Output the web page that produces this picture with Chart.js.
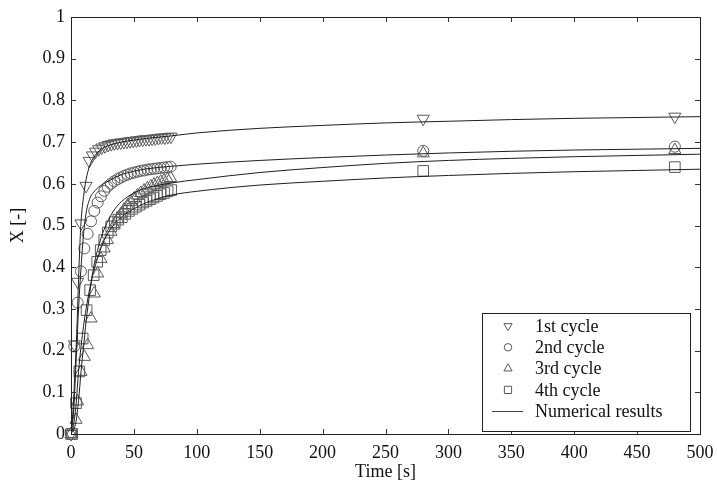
<!DOCTYPE html>
<html><head><meta charset="utf-8">
<script src="https://cdn.jsdelivr.net/npm/chart.js@4.4.1/dist/chart.umd.min.js"></script>
<style>html,body{margin:0;padding:0;background:#fff}canvas{display:block}</style>
</head><body>
<canvas id="c" width="717" height="483"></canvas>
<script>
// ---- tick labels ----
const xTickLabels = ["0","50","100","150","200","250","300","350","400","450","500"];
const yTickLabels = ["0","0.1","0.2","0.3","0.4","0.5","0.6","0.7","0.8","0.9","1"];
const legendLabels = ["1st cycle","2nd cycle","3rd cycle","4th cycle","Numerical results"];

// ---- experimental points [time s, X] ----
const cycle1 = [[0,0],[2.6,0.215],[5.3,0.365],[7.9,0.505],[11.9,0.595],[14.5,0.655],[17,0.668],[19.5,0.677],[22,0.683],[24.5,0.687],[27,0.690],[29.5,0.693],[32,0.695],[34.5,0.697],[37,0.698],[39.5,0.699],[42,0.700],[44.5,0.701],[47,0.702],[49.5,0.703],[52,0.704],[54.5,0.705],[57,0.706],[59.5,0.707],[62,0.707],[64.5,0.708],[67,0.709],[69.5,0.710],[72,0.711],[74.5,0.711],[77,0.712],[79.5,0.713],[280,0.756],[480,0.761]];
const cycle2 = [[0,0],[2.6,0.21],[5.3,0.315],[7.9,0.39],[10.6,0.445],[13.2,0.48],[15.9,0.51],[18.5,0.535],[21.2,0.555],[23.8,0.57],[26.4,0.583],[29,0.593],[31.7,0.600],[34.3,0.606],[37,0.611],[39.6,0.615],[42.2,0.619],[44.9,0.622],[47.5,0.625],[50.2,0.627],[52.8,0.629],[55.4,0.631],[58.1,0.632],[60.7,0.634],[63.4,0.635],[66,0.636],[68.6,0.637],[71.3,0.638],[73.9,0.639],[76.6,0.640],[79.2,0.641],[280,0.679],[480,0.689]];
const cycle3 = [[0,0],[4,0.034],[5.3,0.078],[7.9,0.149],[10.6,0.185],[13.2,0.213],[15.9,0.277],[18.5,0.337],[21.2,0.385],[23.8,0.42],[26.4,0.445],[29,0.465],[31.7,0.485],[34.3,0.50],[37,0.515],[39.6,0.527],[42.2,0.538],[44.9,0.548],[47.5,0.557],[50.2,0.565],[52.8,0.572],[55.4,0.578],[58.1,0.584],[60.7,0.589],[63.4,0.594],[66,0.598],[68.6,0.602],[71.3,0.605],[73.9,0.608],[76.6,0.611],[79.2,0.614],[280,0.673],[480,0.681]];
const cycle4 = [[0,0],[1,0],[4,0.074],[6.6,0.15],[9.3,0.229],[12.4,0.297],[15.2,0.345],[18,0.381],[20.8,0.413],[23.6,0.441],[26.4,0.465],[29.2,0.483],[32,0.498],[34.8,0.508],[37.6,0.514],[40.4,0.52],[43.2,0.528],[46,0.535],[48.8,0.540],[51.6,0.545],[54.4,0.550],[57.2,0.555],[60,0.559],[62.8,0.563],[65.6,0.567],[68.4,0.571],[71.2,0.575],[74,0.578],[76.8,0.582],[79.6,0.585],[280,0.631],[480,0.640]];

// ---- numerical results [time s, X] ----
const model1 = [[0,0],[1,0.03],[2,0.08],[3,0.14],[4,0.2],[5,0.28],[6,0.37],[7,0.45],[8,0.51],[10,0.57],[12,0.61],[15,0.645],[18,0.663],[21,0.675],[25,0.685],[30,0.692],[40,0.700],[50,0.705],[60,0.709],[80,0.715],[100,0.722],[150,0.733],[200,0.740],[250,0.746],[300,0.750],[350,0.754],[400,0.757],[450,0.759],[500,0.761]];
const model2 = [[0,0],[2,0.05],[4,0.17],[6,0.30],[8,0.40],[10,0.48],[12,0.53],[15,0.565],[18,0.58],[22,0.592],[30,0.607],[40,0.622],[50,0.630],[60,0.636],[80,0.642],[100,0.647],[150,0.656],[200,0.663],[250,0.669],[300,0.674],[350,0.678],[400,0.681],[450,0.683],[500,0.685]];
const model3 = [[0,0],[4,0.03],[6,0.08],[8,0.15],[10,0.21],[12,0.27],[15,0.34],[18,0.40],[21,0.44],[25,0.48],[30,0.515],[35,0.54],[40,0.557],[50,0.578],[60,0.590],[80,0.602],[100,0.610],[150,0.627],[200,0.639],[250,0.649],[300,0.656],[350,0.661],[400,0.665],[450,0.668],[500,0.671]];
const model4 = [[0,0],[2,0.02],[4,0.07],[6,0.15],[8,0.21],[10,0.26],[12,0.30],[15,0.35],[18,0.39],[21,0.42],[25,0.455],[30,0.485],[40,0.52],[50,0.54],[60,0.555],[80,0.573],[100,0.582],[150,0.597],[200,0.606],[250,0.614],[300,0.620],[350,0.625],[400,0.629],[450,0.632],[500,0.635]];

const toXY = a => a.map(p => ({x: p[0], y: p[1]}));
const MARK = '#5a5a5a', LINE = '#1e1e1e', FONT = '"Liberation Serif", "Times New Roman", serif';

function pts(label, data, style, rot, r) {
  return {type:'scatter', label, data: toXY(data), pointStyle: style, rotation: rot,
    pointRadius: r, pointHoverRadius: r, borderColor: MARK, backgroundColor: 'rgba(0,0,0,0)',
    pointBorderWidth: 1, showLine: false, clip: false, order: 2};
}
function line(label, data) {
  return {type:'line', label, data: toXY(data), borderColor: LINE, borderWidth: 1,
    pointRadius: 0, cubicInterpolationMode: 'monotone', fill: false, order: 1};
}

const boxPlugin = {
  id: 'boxTicks',
  afterDraw(chart) {
    const {ctx, chartArea: a, scales: {x, y}} = chart;
    ctx.save();
    ctx.strokeStyle = '#333'; ctx.lineWidth = 1;
    ctx.beginPath();
    const L = 5;
    x.ticks.forEach(t => { const px = Math.round(x.getPixelForValue(t.value)) + 0.5;
      ctx.moveTo(px, a.bottom); ctx.lineTo(px, a.bottom - L);
      ctx.moveTo(px, a.top); ctx.lineTo(px, a.top + L); });
    y.ticks.forEach(t => { const py = Math.round(y.getPixelForValue(t.value)) + 0.5;
      ctx.moveTo(a.left, py); ctx.lineTo(a.left + L, py);
      ctx.moveTo(a.right, py); ctx.lineTo(a.right - L, py); });
    ctx.stroke();
    ctx.strokeStyle = '#222';
    ctx.strokeRect(Math.round(a.left) + 0.5, Math.round(a.top) + 0.5, Math.round(a.right - a.left), Math.round(a.bottom - a.top));
    // legend
    const bx = 482.5, by = 313.5, bw = 208, bh = 118;
    ctx.fillStyle = '#fff'; ctx.fillRect(bx, by, bw, bh);
    ctx.strokeStyle = '#222'; ctx.strokeRect(bx, by, bw, bh);
    ctx.font = '18px ' + FONT; ctx.textBaseline = 'middle'; ctx.textAlign = 'left';
    const ds = chart.data.datasets;
    for (let i = 0; i < 5; i++) {
      const cy = 326 + i * 21.3, mx = 508;
      if (i < 4) {
        const d = ds[i + 4];
        ctx.fillStyle = 'rgba(0,0,0,0)'; ctx.strokeStyle = MARK; ctx.lineWidth = 1;
        Chart.helpers.drawPoint(ctx, {pointStyle: d.pointStyle, rotation: d.rotation, radius: d.pointRadius * 0.68, borderWidth: 1}, mx, cy);
      } else {
        ctx.beginPath(); ctx.moveTo(492, Math.round(cy) + 0.5); ctx.lineTo(523, Math.round(cy) + 0.5);
        ctx.strokeStyle = '#444'; ctx.stroke();
      }
      ctx.fillStyle = '#111';
      ctx.fillText(legendLabels[i], 535, cy + 1);
    }
    ctx.restore();
  }
};

new Chart(document.getElementById('c'), {
  data: {datasets: [
    line('Numerical results', model1), line('Numerical results', model2),
    line('Numerical results', model3), line('Numerical results', model4),
    pts('1st cycle', cycle1, 'triangle', 180, 7),
    pts('2nd cycle', cycle2, 'circle', 0, 5.5),
    pts('3rd cycle', cycle3, 'triangle', 0, 7),
    pts('4th cycle', cycle4, 'rect', 0, 7.5)
  ]},
  options: {
    responsive: false, animation: false, devicePixelRatio: 1,
    layout: {padding: {left: 0, right: 17, top: 17, bottom: 0}},
    plugins: {legend: {display: false}, tooltip: {enabled: false}},
    scales: {
      x: {type: 'linear', min: 0, max: 500,
        afterFit: s => { s.height = 49; s.paddingLeft = 0; s.paddingRight = 0; },
        grid: {display: false, drawTicks: false}, border: {display: false},
        ticks: {stepSize: 50, padding: 8, color: '#111', font: {family: FONT, size: 18},
          callback: (v, i) => xTickLabels[i]},
        title: {display: true, text: 'Time [s]', color: '#111', font: {family: FONT, size: 18}, padding: {top: 0, bottom: 0}}},
      y: {type: 'linear', min: 0, max: 1,
        afterFit: s => { s.width = 71; s.paddingTop = 0; s.paddingBottom = 0; },
        grid: {display: false, drawTicks: false}, border: {display: false},
        ticks: {stepSize: 0.1, padding: 6, color: '#111', font: {family: FONT, size: 18},
          callback: (v, i) => yTickLabels[i]},
        title: {display: true, text: 'X [-]', color: '#111', font: {family: FONT, size: 18}, padding: {top: 7, bottom: 0}}}
    }
  },
  plugins: [boxPlugin]
});
</script>
</body></html>
